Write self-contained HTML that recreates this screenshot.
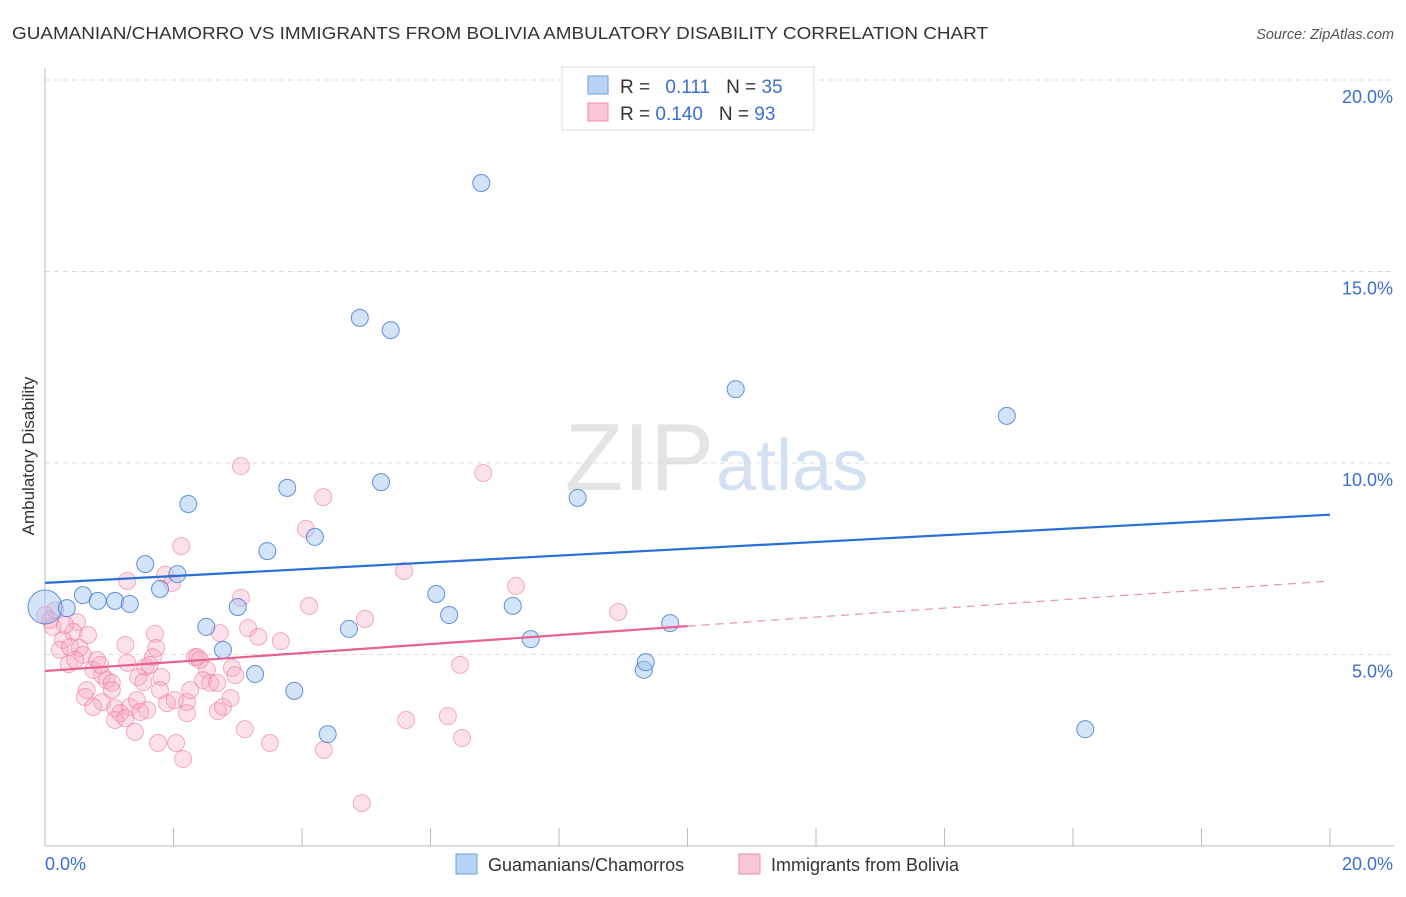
<!DOCTYPE html>
<html><head><meta charset="utf-8"><style>
body{margin:0;background:#fff;font-family:"Liberation Sans",sans-serif}
svg text{font-family:"Liberation Sans",sans-serif}
</style></head><body>
<svg id="c" width="1406" height="892">
<text x="12" y="39" font-size="17.5" fill="#333" textLength="976" lengthAdjust="spacingAndGlyphs">GUAMANIAN/CHAMORRO VS IMMIGRANTS FROM BOLIVIA AMBULATORY DISABILITY CORRELATION CHART</text>
<text x="1394" y="39" font-size="14.5" fill="#555" font-style="italic" text-anchor="end">Source: ZipAtlas.com</text>
<text x="714" y="490" font-size="96" fill="#e4e4e4" font-family="Liberation Serif" text-anchor="end">ZIP</text>
<text x="716" y="490" font-size="72" fill="#d3e1f3">atlas</text>
<text transform="translate(34,456) rotate(-90)" font-size="17" fill="#333" text-anchor="middle">Ambulatory Disability</text>
<g id="grid"></g><g id="pts"></g><g id="lines"></g>
<g>
<rect x="562" y="67" width="252" height="63" fill="#fff" stroke="#ddd"/>
<rect x="588" y="76" width="20" height="18" fill="#b8d3f5" stroke="#6a9fe0"/>
<rect x="588" y="103" width="20" height="18" fill="#f9c6d6" stroke="#ec8fb0"/>
<text x="620" y="93" font-size="19" fill="#333">R = <tspan fill="#3a6fd0" dx="10">0.111</tspan><tspan dx="16" fill="#333">N = </tspan><tspan fill="#3a6fd0">35</tspan></text>
<text x="620" y="120" font-size="19" fill="#333">R = <tspan fill="#3a6fd0">0.140</tspan><tspan dx="16" fill="#333">N = </tspan><tspan fill="#3a6fd0">93</tspan></text>
</g>
<g>
<rect x="456" y="854" width="21" height="20" fill="#b8d3f5" stroke="#6a9fe0"/>
<text x="488" y="871" font-size="18" fill="#333">Guamanians/Chamorros</text>
<rect x="739" y="854" width="21" height="20" fill="#f9c6d6" stroke="#ec8fb0"/>
<text x="771" y="871" font-size="18" fill="#333">Immigrants from Bolivia</text>
</g>
</svg>
<script>
const blueX=[0,0.34,0.59,0.82,1.09,1.32,1.56,1.79,2.06,2.23,2.51,2.77,3.00,3.27,3.46,3.77,3.88,4.20,4.40,4.73,4.90,5.23,5.38,6.09,6.29,6.79,7.28,7.56,8.29,9.32,9.35,9.73,10.75,14.97,16.19];
const blueY=[6.24,6.21,6.55,6.40,6.40,6.32,7.36,6.71,7.10,8.93,5.72,5.12,6.24,4.49,7.70,9.35,4.05,8.07,2.92,5.67,13.79,9.50,13.47,6.58,6.03,17.31,6.27,5.40,9.09,4.60,4.80,5.82,11.93,11.23,3.05];
const pinkX=[4.06,2.12,1.28,1.87,1.98,3.05,4.11,4.98,0.50,0.08,0.12,0.44,3.16,3.32,3.67,2.72,1.71,0.28,0.23,0.39,0.54,0.59,0.37,1.25,1.73,1.68,0.81,1.28,2.33,2.37,1.56,2.52,2.91,2.96,0.75,0.89,0.96,1.04,1.45,1.53,1.81,2.46,2.57,2.68,0.65,0.62,0.89,0.75,1.09,1.17,1.09,1.32,1.43,1.59,1.90,2.21,2.21,2.69,2.77,2.89,1.40,1.76,2.04,2.15,3.11,3.50,4.34,6.82,7.33,8.92,5.59,6.46,6.27,5.62,6.49,4.93,3.05,0.16,0.31,0.00,0.86,1.04,1.48,1.79,2.41,2.26,1.25,0.47,0.67,1.63,2.02,4.33];
const pinkY=[8.28,7.83,6.92,7.08,6.87,6.48,6.27,5.93,5.85,5.90,5.72,5.59,5.69,5.46,5.35,5.56,5.54,5.38,5.12,5.20,5.17,4.99,4.75,5.25,5.17,4.93,4.86,4.78,4.93,4.93,4.67,4.60,4.65,4.46,4.60,4.46,4.33,4.26,4.41,4.28,4.41,4.33,4.26,4.26,4.07,3.89,3.76,3.63,3.60,3.47,3.29,3.63,3.81,3.55,3.73,3.76,3.47,3.52,3.63,3.86,2.98,2.69,2.69,2.27,3.05,2.69,2.51,9.74,6.79,6.11,7.18,4.73,3.39,3.29,2.82,1.12,9.92,6.16,5.77,6.03,4.73,4.07,3.50,4.07,4.86,4.07,3.34,4.86,5.51,4.73,3.81,9.11];
const yTicks=[5,10,15,20];
const blueTrend=[6.87,8.65];
const pinkTrend=[4.57,5.74,6.92];
const NS='http://www.w3.org/2000/svg';
const X=v=>45+v/20*1285, Y=v=>846-v/5*191.5;
function mk(t,a,p){const e=document.createElementNS(NS,t);for(const k in a)e.setAttribute(k,a[k]);p.appendChild(e);return e;}
const g=document.getElementById('grid');
yTicks.forEach(t=>{const l=mk('line',{x1:45,x2:1394,y1:Y(t),y2:Y(t),stroke:'#ddd','stroke-dasharray':'5,4'},g);


const tx=mk('text',{x:1393,y:Y(t)+23,'font-size':18,fill:'#3a6fd0','text-anchor':'end'},g);tx.textContent=t.toFixed(1)+'%';

});
const ax=mk('line',{x1:45,x2:1394,y1:846,y2:846,stroke:'#bbb'},g);


const ay=mk('line',{x1:45,x2:45,y1:68,y2:846,stroke:'#bbb'},g);


for(let i=0;i<=10;i++){const t=mk('line',{x1:X(i*2),x2:X(i*2),y1:828,y2:846,stroke:'#bbb'},g);

}
[[0,'0.0%','start',45],[20,'20.0%','end',1393]].forEach(d=>{const t=mk('text',{x:d[3],y:870,'font-size':18,fill:'#3a6fd0','text-anchor':d[2]},g);t.textContent=d[1];

});
const p=document.getElementById('pts');
pinkX.forEach((x,i)=>{const c=mk('circle',{cx:X(x),cy:Y(pinkY[i]),r:8.5,fill:'rgba(246,170,196,0.35)',stroke:'rgba(236,120,160,0.6)','stroke-width':1},p);

});
blueX.forEach((x,i)=>{const c=mk('circle',{cx:X(x),cy:Y(blueY[i]),r:i===0?17:8.5,fill:'rgba(160,196,240,0.45)',stroke:'rgba(60,120,210,0.8)','stroke-width':1},p);

});
const L=document.getElementById('lines');
const b=mk('line',{x1:X(0),y1:Y(blueTrend[0]),x2:X(20),y2:Y(blueTrend[1]),stroke:'#2a6fd6','stroke-width':2.2},L);


const pk=mk('line',{x1:X(0),y1:Y(pinkTrend[0]),x2:X(10),y2:Y(pinkTrend[1]),stroke:'#e8628f','stroke-width':2.2},L);


const pd=mk('line',{x1:X(10),y1:Y(pinkTrend[1]),x2:X(20),y2:Y(pinkTrend[2]),stroke:'#ec8fb0','stroke-width':1.2,'stroke-dasharray':'8,6'},L);


</script>
</body></html>
